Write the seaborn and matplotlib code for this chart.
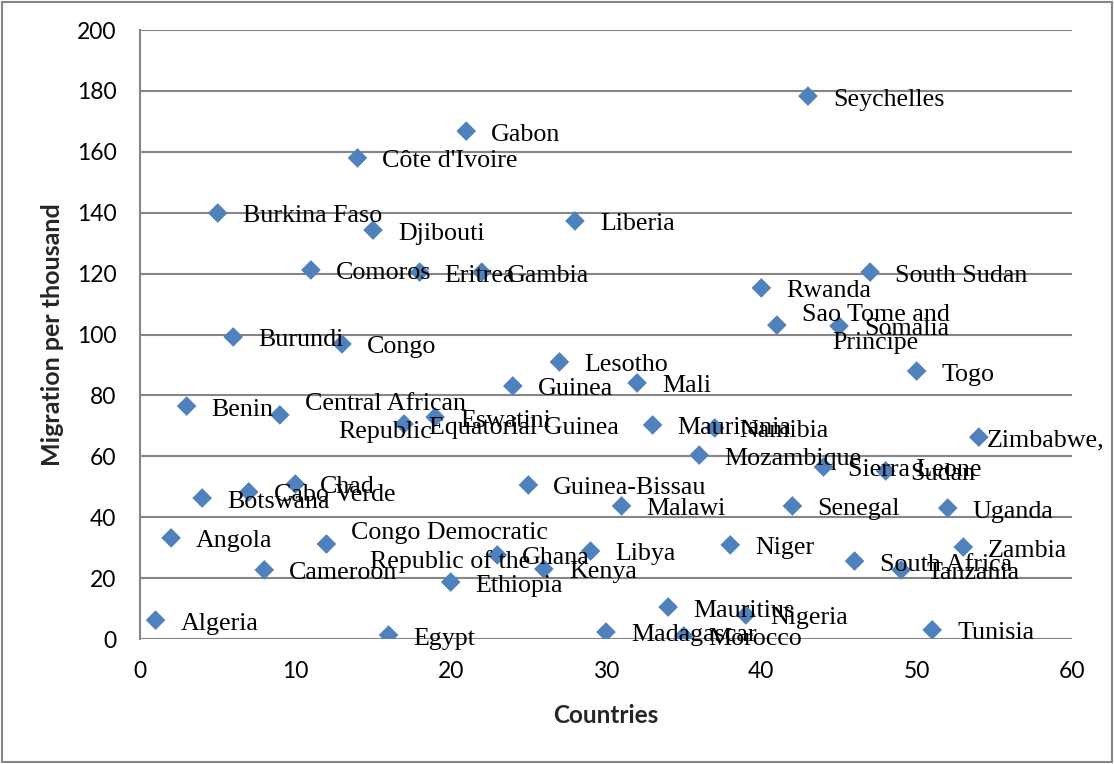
import matplotlib
matplotlib.use("Agg")
import matplotlib.pyplot as plt
import seaborn as sns
import pandas as pd
from matplotlib.patches import Rectangle

# Net migration per thousand, African countries in alphabetical order
countries = [
    "Algeria", "Angola", "Benin", "Botswana", "Burkina Faso", "Burundi",
    "Cabo Verde", "Cameroon", "Central African\nRepublic", "Chad", "Comoros",
    "Congo Democratic\nRepublic of the", "Congo", "Côte d'Ivoire", "Djibouti",
    "Egypt", "Equatorial Guinea", "Eritrea", "Eswatini", "Ethiopia", "Gabon",
    "Gambia", "Ghana", "Guinea", "Guinea-Bissau", "Kenya", "Lesotho",
    "Liberia", "Libya", "Madagascar", "Malawi", "Mali", "Mauritania",
    "Mauritius", "Morocco", "Mozambique", "Namibia", "Niger", "Nigeria",
    "Rwanda", "Sao Tome and\nPrincipe", "Senegal", "Seychelles",
    "Sierra Leone", "Somalia", "South Africa", "South Sudan", "Sudan",
    "Tanzania", "Togo", "Tunisia", "Uganda", "Zambia", "Zimbabwe,",
]
country_index = list(range(1, len(countries) + 1))
migration = [
    6.2, 33.2, 76.5, 46.3, 139.9, 99.2,
    48.3, 22.7, 73.6, 50.9, 121.2,
    31.2, 96.9, 158.0, 134.3,
    1.3, 70.6, 120.5, 72.9, 18.7, 166.8,
    120.5, 27.6, 83.1, 50.6, 23.0, 91.0,
    137.3, 28.9, 2.3, 43.7, 84.1, 70.3,
    10.5, 1.0, 60.4, 69.3, 30.9, 7.9,
    115.3, 103.1, 43.7, 178.3,
    56.5, 102.8, 25.6, 120.5, 55.2,
    22.7, 88.0, 3.0, 43.0, 30.2, 66.3,
]
x_ticks = [0, 10, 20, 30, 40, 50, 60]
y_ticks = [0, 20, 40, 60, 80, 100, 120, 140, 160, 180, 200]

df = pd.DataFrame({"Countries": country_index,
                   "Migration per thousand": migration,
                   "name": countries})

sns.set_theme(style="white")
plt.rcParams["font.family"] = ["Lato", "DejaVu Sans"]

GRID = "#868686"
BLUE = "#4F81BD"

fig = plt.figure(figsize=(11.14, 7.64), dpi=100)
ax = fig.add_axes([0.1257, 0.1636, 0.8366, 0.7971])

sns.scatterplot(data=df, x="Countries", y="Migration per thousand",
                marker="D", s=100, color=BLUE, edgecolor="none",
                linewidth=0, ax=ax, zorder=3, legend=False)

ax.set_xlim(0, 60)
ax.set_ylim(0, 200)
ax.set_xticks(x_ticks)
ax.set_yticks(y_ticks)
ax.tick_params(axis="both", length=0, labelsize=16.5, colors="black")
ax.tick_params(axis="y", pad=17)
ax.tick_params(axis="x", pad=16)
ax.yaxis.grid(True, color=GRID, linewidth=1.5)
ax.xaxis.grid(False)
ax.set_axisbelow(True)
for side in ["top", "right", "bottom"]:
    ax.spines[side].set_visible(False)
ax.spines["left"].set_color(GRID)
ax.spines["left"].set_linewidth(1.5)

ax.set_xlabel("Countries", fontsize=17.5, fontweight="bold", labelpad=16)
ax.set_ylabel("Migration per thousand", fontsize=18, fontweight="bold",
              labelpad=9)

# data labels placed to the right of each marker
for xi, yi, name in zip(df["Countries"], df["Migration per thousand"],
                        df["name"]):
    dx = 6 if name.startswith("Zimbabwe") else 18
    ax.annotate(name, (xi, yi), xytext=(dx, -2.5), textcoords="offset points",
                ha="left", va="center", multialignment="center",
                linespacing=1.35,
                fontsize=18.7, family=["Liberation Serif", "DejaVu Serif"],
                color="black", zorder=4)

# outer chart border
fig.patches.append(Rectangle((0.002, 0.002), 0.996, 0.996,
                             transform=fig.transFigure, fill=False,
                             edgecolor=GRID, linewidth=1.5))

fig.savefig("out.png", dpi=100)
